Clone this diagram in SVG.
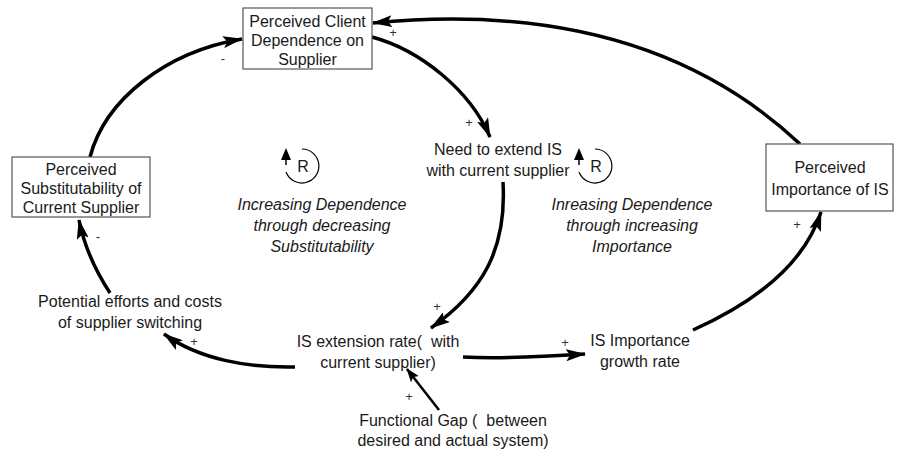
<svg xmlns="http://www.w3.org/2000/svg" width="898" height="455" viewBox="0 0 898 455">
<defs>
<marker id="ah" viewBox="0 0 20 12" refX="19" refY="6" markerWidth="20" markerHeight="12" markerUnits="userSpaceOnUse" orient="auto">
<path d="M0,0 L20,6 L0,12 L4,6 Z" fill="#000"/>
</marker>
<marker id="ahs" viewBox="0 0 14 10" refX="13" refY="5" markerWidth="14" markerHeight="10" markerUnits="userSpaceOnUse" orient="auto">
<path d="M0,0 L14,5 L0,10 L3,5 Z" fill="#000"/>
</marker>
</defs>
<style>
text{font-family:"Liberation Sans",Arial,sans-serif;font-size:16px;fill:#1a1a1a;text-anchor:middle}
.it{font-style:italic}
.sg{font-size:13px;fill:#333}
.box{fill:#fff;stroke:#555;stroke-width:1.2}
.c{fill:none;stroke:#000;stroke-width:3.5;marker-end:url(#ah)}
.c2{fill:none;stroke:#000;stroke-width:2.5;marker-end:url(#ahs)}
.loop{fill:none;stroke:#000;stroke-width:1.2}
</style>
<rect width="898" height="455" fill="#fff"/>

<g id="connectors">
<path class="c" d="M90,157 C105,100 165,52 242,39"/>
<path class="c" d="M372,37 C420,50 470,90 490,137"/>
<path class="c" d="M800,144 C700,50 560,5 373,23"/>
<path class="c" d="M503,182 C507,250 482,292 431,328"/>
<path class="c" d="M295,367 C250,368 200,360 164,334"/>
<path class="c" d="M110,293 C95,270 84,245 79,220"/>
<path class="c" d="M463,357 C500,359 540,357 585,354"/>
<path class="c" d="M693,330 C760,300 805,262 821,212"/>
<path class="c2" d="M439,410 L407,369"/>
<text class="sg" x="223" y="63">-</text>
<text class="sg" x="393" y="37">+</text>
<text class="sg" x="469" y="127">+</text>
<text class="sg" x="437" y="311">+</text>
<text class="sg" x="194" y="346">+</text>
<text class="sg" x="98" y="241">-</text>
<text class="sg" x="565" y="347">+</text>
<text class="sg" x="797" y="229">+</text>
<text class="sg" x="409" y="401">+</text>
</g>

<g id="client-dependence">
<rect class="box" x="243" y="8" width="129" height="61"/>
<text x="307.5" y="27">Perceived Client</text>
<text x="307.5" y="46">Dependence on</text>
<text x="307.5" y="65">Supplier</text>
</g>

<g id="substitutability">
<rect class="box" x="12" y="157" width="138" height="60"/>
<text x="81" y="175">Perceived</text>
<text x="81" y="194">Substitutability of</text>
<text x="81" y="213">Current Supplier</text>
</g>

<g id="importance">
<rect class="box" x="766" y="144" width="127" height="67"/>
<text x="830" y="173">Perceived</text>
<text x="830" y="195">Importance of IS</text>
</g>

<g id="need-extend">
<text x="498" y="155">Need to extend IS</text>
<text x="498" y="176">with current supplier</text>
</g>

<g id="extension-rate">
<text x="378" y="347" xml:space="preserve">IS extension rate(  with</text>
<text x="378" y="368">current supplier)</text>
</g>

<g id="switching-costs">
<text x="130" y="307">Potential efforts and costs</text>
<text x="130" y="328">of supplier switching</text>
</g>

<g id="importance-growth">
<text x="640" y="346">IS Importance</text>
<text x="640" y="367">growth rate</text>
</g>

<g id="functional-gap">
<text x="453" y="426" xml:space="preserve">Functional Gap (  between</text>
<text x="453" y="446">desired and actual system)</text>
</g>

<g id="loop-left">
<path class="loop" d="M302,149 A17,17 0 1 1 286,172"/>
<path d="M286,165 L286,158" stroke="#000" stroke-width="1.5"/>
<path d="M281,160 L286,148 L291,160 Z" fill="#000"/>
<text x="303" y="172">R</text>
<text class="it" x="322" y="210">Increasing Dependence</text>
<text class="it" x="322" y="231">through decreasing</text>
<text class="it" x="322" y="252">Substitutability</text>
</g>

<g id="loop-right">
<path class="loop" d="M595,149 A17,17 0 1 1 579,172"/>
<path d="M579,165 L579,158" stroke="#000" stroke-width="1.5"/>
<path d="M574,160 L579,148 L584,160 Z" fill="#000"/>
<text x="596" y="172">R</text>
<text class="it" x="632" y="210">Inreasing Dependence</text>
<text class="it" x="632" y="231">through increasing</text>
<text class="it" x="632" y="252">Importance</text>
</g>
</svg>
